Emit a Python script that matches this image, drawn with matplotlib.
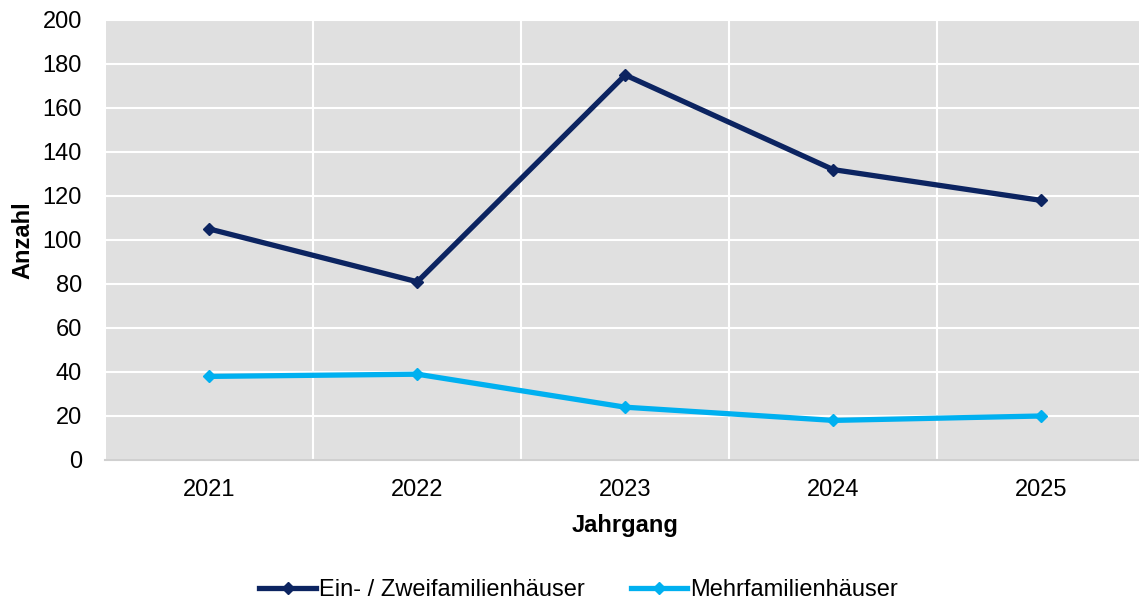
import matplotlib.pyplot as plt
import numpy as np

plt.rcParams['font.family'] = ['Liberation Sans', 'DejaVu Sans']

# Daten
jahre = ['2021', '2022', '2023', '2024', '2025']
ein_zwei = [105, 81, 175, 132, 118]
mehr = [38, 39, 24, 18, 20]

farbe_dunkel = '#0c2461'
farbe_hell = '#00b0f0'

fig = plt.figure(figsize=(11.39, 6.05), dpi=100)
ax = fig.add_axes([105.5 / 1139, 145 / 605, 1039.5 / 1139, 440 / 605])
ax.set_facecolor('#e0e0e0')

x = np.arange(len(jahre))
ax.plot(x, ein_zwei, color=farbe_dunkel, lw=3.8, marker='D', ms=6.5,
        label='Ein- / Zweifamilienhäuser', zorder=3)
ax.plot(x, mehr, color=farbe_hell, lw=3.8, marker='D', ms=6.5,
        label='Mehrfamilienhäuser', zorder=3)

ax.set_xlim(-0.5, len(jahre) - 0.5)
ax.set_ylim(0, 200)
ax.set_yticks(range(0, 201, 20))
ax.set_xticks(x)
ax.set_xticklabels(jahre)
ax.set_xticks(np.arange(0.5, len(jahre) - 0.5, 1), minor=True)

ax.grid(axis='y', which='major', color='white', lw=1.5)
ax.grid(axis='x', which='minor', color='white', lw=1.5)
ax.set_axisbelow(True)
ax.tick_params(axis='both', which='both', length=0, labelsize=17)
ax.tick_params(axis='y', pad=17)
ax.tick_params(axis='x', pad=14)

for s in ['top', 'right', 'left']:
    ax.spines[s].set_visible(False)
ax.spines['bottom'].set_color('#d0d0d0')
ax.spines['bottom'].set_linewidth(1.5)

ax.set_ylabel('Anzahl', fontsize=17, fontweight='bold', va='center')
ax.yaxis.set_label_coords(-0.0794, 0.5)
ax.set_xlabel('Jahrgang', fontsize=17, fontweight='bold', va='center')
ax.xaxis.set_label_coords(0.5, -0.148)

fig.legend(loc='center', bbox_to_anchor=(578.5 / 1139, 1 - 590 / 605), ncol=2,
           frameon=False, fontsize=17, handlelength=2.4, handletextpad=0.12,
           columnspacing=1.95, borderpad=0, borderaxespad=0)

fig.savefig('out.png', dpi=100)
